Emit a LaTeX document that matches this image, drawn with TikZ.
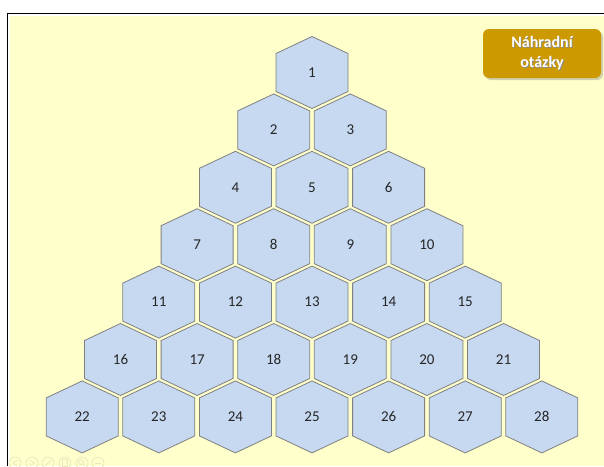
\documentclass[tikz,border=0pt]{standalone}
\usepackage{fontspec}
\setmainfont{Carlito}
\usetikzlibrary{shadows,calc}
\definecolor{pagebg}{HTML}{FFFFCC}
\definecolor{cellfill}{HTML}{C6D9F1}
\definecolor{celldraw}{HTML}{808080}
\definecolor{btnfill}{HTML}{CC9900}
\definecolor{navgray}{HTML}{E6E6C0}
\tikzset{
  hexcell/.style={draw=celldraw, fill=cellfill, line width=0.8pt, line join=miter},
  hexlabel/.style={font=\fontsize{15}{17}\selectfont, text=black!85, inner sep=0pt},
  btnbox/.style={fill=btnfill, rounded corners=6pt, minimum width=118pt, minimum height=49pt,
    drop shadow={shadow xshift=2pt, shadow yshift=-2pt, opacity=0.3, fill=black!60}},
  btntext/.style={font=\bfseries\fontsize{16}{20}\selectfont, align=center, inner sep=0pt},
  navicon/.style={draw=navgray, line width=0.7pt},
}

\begin{document}
\begin{tikzpicture}[x=1pt, y=-1pt]

  \useasboundingbox (0,0) rectangle (604,466);
  \fill[white] (0,0) rectangle (604,466);
  \fill[pagebg] (10,16) rectangle (604,466);
  \draw[black, line width=1pt] (7.5,466) -- (7.5,13.5) -- (604,13.5);

  % pyramid of cells, row by row
  \foreach \r in {0,...,6} {
    \foreach \k in {0,...,\r} {
      \pgfmathtruncatemacro{\n}{\r*(\r+1)/2+\k+1}
      \pgfmathsetmacro{\cx}{312+(\k-\r/2)*76.6}
      \pgfmathsetmacro{\cy}{72.5+\r*57.4}
      \draw[hexcell] (\cx,\cy) ++(0,-36) -- ++(36,17) -- ++(0,38) -- ++(-36,17)
        -- ++(-36,-17) -- ++(0,-38) -- cycle;
      \node[hexlabel] (h\n) at (\cx,\cy) {\n};
    }
  }

  % button
  \node[btnbox] (btn) at (542,53.5) {};
  \node[btntext, text=black!45] (btnshade) at ($(btn.center)+(0.8,0.8)$) {Náhradní\\otázky};
  \node[btntext, text=white] (btntxt) at (btn.center) {Náhradní\\otázky};

  % faint slide controls
  \foreach \i in {15,32,48,65,82,98}
    \draw[navicon] (\i,463) circle (6);
  \draw[navicon] (17,460) -- (13,463) -- (17,466);
  \draw[navicon] (30,460) -- (34,463) -- (30,466);
  \draw[navicon] (45,466) -- (51,460);
  \draw[navicon] (62.5,459.5) rectangle (67.5,466);
  \draw[navicon] (81,462) circle (2.5) (83,464) -- (85,466);
  \draw[navicon] (95,463) -- (101,463);

\end{tikzpicture}
\end{document}
